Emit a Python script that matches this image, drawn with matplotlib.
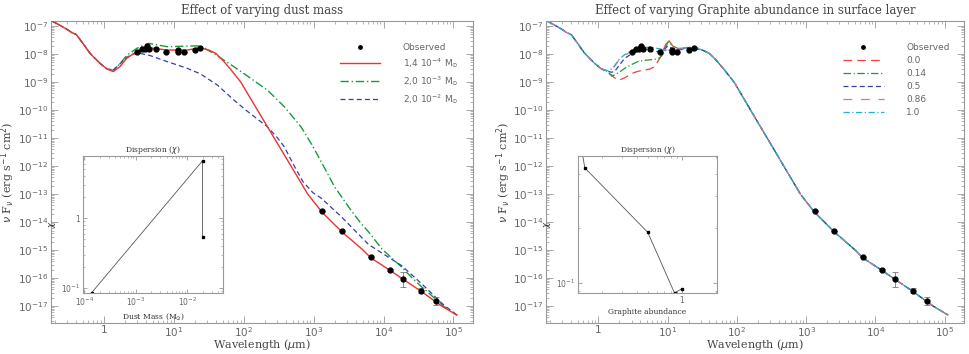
import numpy as np
import matplotlib
matplotlib.use("Agg")
import matplotlib.pyplot as plt
from matplotlib.ticker import LogLocator, FixedLocator, FuncFormatter, NullFormatter

# ---- data (log10 of nu F_nu) ----
head_wl = [0.18, 0.233, 0.306, 0.343, 0.405, 0.5, 0.63, 0.875, 1.1]
head_lf = [-6.82, -6.97, -7.14, -7.23, -7.31, -7.62, -7.97, -8.33, -8.53]

tail_wl = [31.6, 40, 50, 65, 90.6, 157, 273, 474, 625, 822, 1320, 2540,
           5100, 6600, 12300, 19000, 34400, 68000, 112000]
tail_lf = [-7.86, -7.98, -8.22, -8.55, -9.0, -10.0, -11.0, -12.0, -12.5,
           -13.0, -13.65, -14.35, -15.0, -15.28, -15.72, -16.04, -16.47,
           -17.0, -17.32]

# dust mass models, 1-30 micron part
red_wl = [1.36, 1.7, 2.12, 2.95, 4.6, 8, 15.5, 24]
red_lf = [-8.63, -8.45, -8.15, -7.92, -7.78, -7.86, -7.86, -7.78]

green_wl = [1.36, 1.7, 2.12, 2.95, 4.35, 8, 15, 24, 37, 72, 126, 218, 380,
            660, 975, 1350, 2000, 3470, 4600, 6100, 9400, 18000, 25300,
            35000, 72000, 112000]
green_lf = [-8.58, -8.35, -8.05, -7.80, -7.62, -7.74, -7.72, -7.71, -7.98,
            -8.45, -8.87, -9.29, -9.88, -10.6, -11.3, -11.95, -12.75, -13.6,
            -14.0, -14.35, -14.95, -15.6, -15.98, -16.31, -17.0, -17.32]

blue_wl = [1.36, 1.7, 2.12, 2.6, 3.3, 4.5, 8, 15.5, 24, 42, 72, 107, 218,
           305, 380, 528, 700, 975, 1290, 2490, 6100, 18000, 35000, 72000,
           112000]
blue_lf = [-8.58, -8.35, -8.12, -8.0, -7.98, -8.05, -8.27, -8.51, -8.71,
           -9.11, -9.64, -10.0, -10.6, -11.0, -11.31, -12.0, -12.55, -12.95,
           -13.15, -13.81, -14.8, -15.55, -16.2, -16.95, -17.32]

# graphite abundance models, 1-30 micron part
gr_wl = [1.36, 1.55, 1.7, 2.0, 2.4, 3.0, 3.7, 4.5, 5.5, 6.5, 7.7, 8.6,
         10.1, 11.9, 14, 16, 19, 24]
gr_00 = [-8.65, -8.75, -8.85, -8.93, -8.85, -8.70, -8.62, -8.58, -8.54,
         -8.45, -8.15, -7.86, -7.48, -7.72, -7.86, -7.84, -7.76, -7.80]
gr_014 = [-8.63, -8.79, -8.75, -8.65, -8.51, -8.38, -8.27, -8.23, -8.21,
          -8.19, -8.14, -8.0, -7.56, -7.72, -7.80, -7.80, -7.78, -7.80]
gr_05 = [-8.62, -8.65, -8.63, -8.40, -8.15, -8.0, -7.90, -7.86, -7.90,
         -7.92, -7.90, -7.87, -7.71, -7.82, -7.86, -7.82, -7.78, -7.80]
gr_086 = [-8.60, -8.55, -8.45, -8.20, -8.05, -7.90, -7.82, -7.78, -7.76,
          -7.78, -7.82, -7.85, -7.86, -7.86, -7.82, -7.80, -7.76, -7.75]
gr_10 = [-8.60, -8.53, -8.43, -8.18, -8.02, -7.87, -7.80, -7.77, -7.76,
         -7.78, -7.82, -7.86, -7.87, -7.86, -7.82, -7.80, -7.76, -7.75]

obs_wl = [3.0, 3.5, 3.9, 4.1, 4.35, 5.6, 7.8, 11.5, 11.5, 13.8, 20, 23.6,
          1320, 2540, 6600, 12300, 19000, 34500, 56000]
obs_lf = [-7.92, -7.83, -7.83, -7.71, -7.83, -7.81, -7.94, -7.86, -7.94,
          -7.94, -7.86, -7.80, -13.6, -14.32, -15.26, -15.71, -16.04,
          -16.45, -16.81]
obs_err = [0, 0, 0, 0, 0, 0, 0, 0, 0, 0, 0, 0, 0, 0, 0, 0.04, 0.27, 0.09, 0.15]

# inset data
mass = [1.4e-4, 2.0e-2, 2.0e-2]
chi_mass = [0.086, 6.6, 0.54]
abund = [0.1, 0.14, 0.5, 0.86, 1.0]
chi_abund = [1.5, 0.43, 0.19, 0.088, 0.093]

mass_labels = [r'1,4 $10^{-4}$ M$_{\odot}$', r'2,0 $10^{-3}$ M$_{\odot}$',
               r'2,0 $10^{-2}$ M$_{\odot}$']
gr_labels = ['0.0', '0.14', '0.5', '0.86', '1.0']

# major tick positions shown
wl_ticks = [1, 1e1, 1e2, 1e3, 1e4, 1e5]
flux_ticks = [1e-17, 1e-16, 1e-15, 1e-14, 1e-13, 1e-12, 1e-11, 1e-10,
              1e-9, 1e-8, 1e-7]

GRAY = '#666666'
SERIF = 'DejaVu Serif'


def fl(v):
    return 10.0 ** np.asarray(v)


def sup_fmt(v, pos):
    e = int(round(np.log10(v)))
    if e == 0:
        return '1'
    return r'$10^{%d}$' % e


def style_axes(ax, size, pad, xt, yt):
    ax.set_xscale('log')
    ax.set_yscale('log')
    for s in ax.spines.values():
        s.set_color('#999999')
        s.set_linewidth(0.8)
    ax.tick_params(which='both', direction='in', top=True, right=True,
                   colors='#999999', labelcolor=GRAY, labelsize=size, pad=pad)
    ax.tick_params(which='major', length=5, width=0.6)
    ax.tick_params(which='minor', length=2.5, width=0.5)
    ax.xaxis.set_major_locator(FixedLocator(xt))
    ax.yaxis.set_major_locator(FixedLocator(yt))
    ax.xaxis.set_minor_locator(LogLocator(base=10, subs=np.arange(2, 10), numticks=20))
    ax.yaxis.set_minor_locator(LogLocator(base=10, subs=np.arange(2, 10), numticks=20))
    ax.xaxis.set_major_formatter(FuncFormatter(sup_fmt))
    ax.yaxis.set_major_formatter(FuncFormatter(sup_fmt))
    ax.xaxis.set_minor_formatter(NullFormatter())
    ax.yaxis.set_minor_formatter(NullFormatter())


def main_frame(ax, title):
    style_axes(ax, 7.5, 2, wl_ticks, flux_ticks)
    ax.tick_params(axis='x', pad=1.5)
    ax.set_xlim(0.175, 1.9e5)
    ax.set_ylim(2.5e-18, 1.5e-7)
    ax.set_title(title, family=SERIF, fontsize=8.5, color='#444444', pad=5)
    ax.set_xlabel(r'Wavelength ($\mu$m)', family=SERIF, fontsize=8,
                  color='#444444')
    ax.xaxis.set_label_coords(0.5, -0.047)
    ax.set_ylabel(r'$\nu$ F$_{\nu}$ (erg s$^{-1}$ cm$^{2}$)', family=SERIF,
                  fontsize=8, color='#444444')
    ax.yaxis.set_label_coords(-0.08, 0.5)


def observed(ax):
    y = fl(obs_lf)
    lo = y - fl(np.asarray(obs_lf) - np.asarray(obs_err))
    hi = fl(np.asarray(obs_lf) + np.asarray(obs_err)) - y
    ax.errorbar(obs_wl, y, yerr=[lo, hi], fmt='none', ecolor='#777777',
                elinewidth=0.6, capsize=2, capthick=0.6, zorder=4)
    h, = ax.plot(obs_wl, y, 'o', color='black', ms=3.5, zorder=5,
                 label='Observed')
    return h


def inset(ax, title, xlabel, xt, yt):
    style_axes(ax, 5.5, 2, xt, yt)
    ax.set_title(title, family=SERIF, fontsize=5.5, color='#333333', pad=3)
    ax.set_xlabel(xlabel, family=SERIF, fontsize=5.5, color='#333333', labelpad=2)
    ax.set_ylabel(r'$\chi$', fontsize=6, color='#333333', labelpad=2)
    ax.tick_params(which='major', length=3)
    ax.tick_params(which='minor', length=1.5)


fig = plt.figure(figsize=(9.69, 3.54), dpi=100)

# ---- left panel: dust mass ----
ax1 = fig.add_axes([0.0526, 0.0876, 0.4355, 0.853])
main_frame(ax1, 'Effect of varying dust mass')
hobs = observed(ax1)
l1, = ax1.plot(head_wl + red_wl + tail_wl, fl(head_lf + red_lf + tail_lf),
               color='#f03030', lw=1.0, label=mass_labels[0], zorder=3)
l2, = ax1.plot(head_wl + green_wl, fl(head_lf + green_lf), color='#1a9a3a',
               lw=1.0, dashes=(6, 2, 1, 2), label=mass_labels[1], zorder=2)
l3, = ax1.plot(head_wl + blue_wl, fl(head_lf + blue_lf), color='#3040b0',
               lw=0.9, dashes=(4, 2.5), label=mass_labels[2], zorder=2)
leg = ax1.legend(handles=[hobs, l1, l2, l3], loc='upper right',
                 bbox_to_anchor=(0.985, 0.955), frameon=False, fontsize=6.5,
                 handlelength=4.5, handletextpad=2.5, labelspacing=0.45,
                 markerscale=0.7)
for t in leg.get_texts():
    t.set_color(GRAY)

ins1 = fig.add_axes([0.0857, 0.1723, 0.1445, 0.387])
inset(ins1, r'Dispersion ($\chi$)', r'Dust Mass (M$_{\odot}$)',
      [1e-4, 1e-3, 1e-2], [0.1, 1])
ins1.plot(mass, chi_mass, '-', color='#555555', lw=0.6)
ins1.plot(mass, chi_mass, 's', color='black', ms=1.8)
ins1.set_xlim(0.95e-4, 5e-2)
ins1.set_ylim(0.085, 7.7)

# ---- right panel: graphite abundance ----
ax2 = fig.add_axes([0.5635, 0.0876, 0.4314, 0.853])
main_frame(ax2, 'Effect of varying Graphite abundance in surface layer')
hobs2 = observed(ax2)
gr_curves = [gr_00, gr_014, gr_05, gr_086, gr_10]
gr_colors = ['#f04040', '#1a9a3a', '#3040b0', '#e070a0', '#20b0d0']
gr_dashes = [(7, 4), (6, 2, 1, 2), (4, 2.5), (7, 7), (5, 2, 1, 2)]
handles = [hobs2]
for vals, c, d, lab in zip(gr_curves, gr_colors, gr_dashes, gr_labels):
    h, = ax2.plot(head_wl + gr_wl + tail_wl, fl(head_lf + vals + tail_lf),
                  color=c, lw=0.9, dashes=d, label=lab, zorder=2)
    handles.append(h)
leg2 = ax2.legend(handles=handles, loc='upper right',
                  bbox_to_anchor=(0.985, 0.955), frameon=False, fontsize=6.5,
                  handlelength=4.5, handletextpad=2.5, labelspacing=0.45,
                  markerscale=0.7)
for t in leg2.get_texts():
    t.set_color(GRAY)

ins2 = fig.add_axes([0.5965, 0.1723, 0.1434, 0.387])
inset(ins2, r'Dispersion ($\chi$)', 'Graphite abundance', [1], [0.1])
ins2.plot(abund, chi_abund, '-', color='#555555', lw=0.6)
ins2.plot(abund, chi_abund, 's', color='black', ms=1.8)
ins2.set_xlim(0.122, 2.03)
ins2.set_ylim(0.088, 0.5)

fig.savefig('out.png', dpi=100)
